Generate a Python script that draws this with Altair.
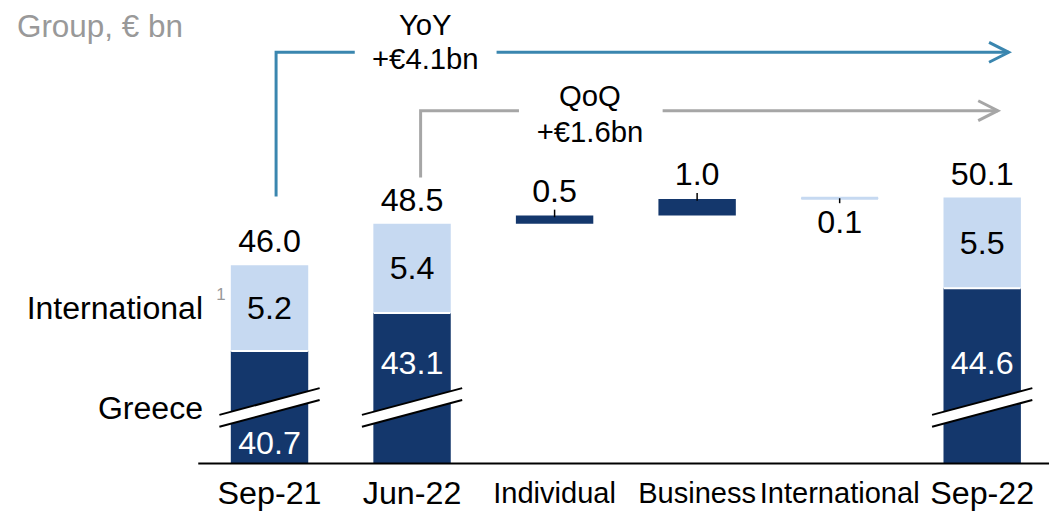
import altair as alt
import pandas as pd

# ---------------- data ----------------
categories = ["Sep-21", "Jun-22", "Individual", "Business", "International", "Sep-22"]
total_cats = ["Sep-21", "Jun-22", "Sep-22"]
greece = [40.7, 43.1, 44.6]
international = [5.2, 5.4, 5.5]
totals = [46.0, 48.5, 50.1]
delta_cats = ["Individual", "Business", "International"]
deltas = [0.5, 1.0, 0.1]
delta_segment = ["Greece", "Greece", "International"]
delta_label_side = ["above", "above", "below"]
segment_names = ["Greece", "International"]
yoy_text = ["YoY", "+€4.1bn"]
qoq_text = ["QoQ", "+€1.6bn"]
unit_text = "Group, € bn"
footnote = "1"

# ---------------- layout ----------------
BASE = 34.0            # broken value axis starts here
W, H = 1054, 504
PX_PER_UNIT = 16.65
PX_PER_STEP = 145
BASE_PX = 457
FIRST_PX = 261
Y_DOM = [BASE - (H - BASE_PX) / PX_PER_UNIT, BASE + BASE_PX / PX_PER_UNIT]
X_DOM = [-FIRST_PX / PX_PER_STEP, (W - FIRST_PX) / PX_PER_STEP]
HALF = 39 / PX_PER_STEP
BREAK_HALF = 51 / PX_PER_STEP
BREAK_L = (36.94, 36.22)   # upper / lower edge at left end
BREAK_R = (38.56, 37.84)   # upper / lower edge at right end
DARK_LABEL_Y = [34.6, 39.4, 39.4]
YOY_LEVEL, QOQ_LEVEL = 58.88, 55.35
MIN_BAR_PX = 3

DARK, LIGHT = "#14376C", "#C6D9F1"
BLUE, GRAY = "#3A86AF", "#A6A6A6"
FONT = "Liberation Sans"
FS_VAL, FS_CAT, FS_CAT_SMALL, FS_LEFT, FS_UNIT, FS_ANN = 32.5, 32.5, 29.3, 32.3, 31.7, 29.5

idx = {c: i for i, c in enumerate(categories)}
xs = alt.Scale(domain=X_DOM, nice=False, zero=False)
ys = alt.Scale(domain=Y_DOM, nice=False, zero=False)

# bars
rows = []
for c, g, it, t in zip(total_cats, greece, international, totals):
    rows.append(dict(idx=idx[c], y=BASE, y2=t - it, seg="Greece"))
    rows.append(dict(idx=idx[c], y=t - it, y2=t, seg="International"))
running = totals[1]
delta_rows = []
for c, d, s, side in zip(delta_cats, deltas, delta_segment, delta_label_side):
    rows.append(dict(idx=idx[c], y=running, y2=running + d, seg=s))
    delta_rows.append(dict(idx=idx[c], start=running, end=running + d, mid=running + d / 2,
                           side=side, seg=s, label=f"{d:.1f}", px=d * PX_PER_UNIT))
    running += d
bars_df = pd.DataFrame(rows)
delta_df = pd.DataFrame(delta_rows)
delta_df["xl"] = delta_df["idx"] - HALF
delta_df["xr"] = delta_df["idx"] + HALF

X = lambda f="idx": alt.X(f"{f}:Q", scale=xs, axis=None)
Y = lambda f="y": alt.Y(f"{f}:Q", scale=ys, axis=None)
seg_color = alt.Color("seg:N", scale=alt.Scale(domain=segment_names, range=[DARK, LIGHT]), legend=None)

bars = alt.Chart(bars_df).mark_bar(size=78).encode(x=X(), y=Y(), y2="y2:Q", color=seg_color)

# very thin delta bars get a minimum visible thickness
thin = alt.Chart(delta_df[delta_df.px < MIN_BAR_PX]).mark_rule(strokeWidth=MIN_BAR_PX).encode(
    x=X("xl"), x2="xr:Q", y=Y("mid"), color=seg_color)

tot_df = pd.DataFrame(dict(
    idx=[idx[c] for c in total_cats], total=totals, split=[t - i for t, i in zip(totals, international)],
    mid=[t - i / 2 for t, i in zip(totals, international)],
    intl=[f"{v:.1f}" for v in international], gr=[f"{v:.1f}" for v in greece],
    tl=[f"{v:.1f}" for v in totals], dark_y=DARK_LABEL_Y,
))
tot_df["xl"] = tot_df["idx"] - HALF
tot_df["xr"] = tot_df["idx"] + HALF

separators = alt.Chart(tot_df).mark_rule(color="white", strokeWidth=2).encode(
    x=X("xl"), x2="xr:Q", y=Y("split"))

# axis break marks
brk_rows = []
for c in total_cats:
    brk_rows.append(dict(bar=c, x=idx[c] - BREAK_HALF, up=BREAK_L[0], lo=BREAK_L[1]))
    brk_rows.append(dict(bar=c, x=idx[c] + BREAK_HALF, up=BREAK_R[0], lo=BREAK_R[1]))
brk_df = pd.DataFrame(brk_rows)
brk_fill = alt.Chart(brk_df).mark_area(color="white", opacity=1).encode(
    x=X("x"), y=Y("up"), y2="lo:Q", detail="bar:N")
brk_line_df = pd.DataFrame([
    dict(x=idx[c] - BREAK_HALF, x2=idx[c] + BREAK_HALF, y=BREAK_L[k], y2=BREAK_R[k])
    for c in total_cats for k in (0, 1)
])
brk_lines = alt.Chart(brk_line_df).mark_rule(color="black", strokeWidth=2).encode(
    x=X("x"), x2="x2:Q", y=Y("y"), y2="y2:Q")

axis_line = alt.Chart(pd.DataFrame(dict(x=[-0.5], x2=[X_DOM[1]], y=[BASE]))).mark_rule(
    color="black", strokeWidth=2).encode(x=X("x"), x2="x2:Q", y=Y("y"))

# connector ticks on delta bars
tick_rows = []
for r in delta_rows:
    if r["side"] == "above":
        tick_rows.append(dict(idx=r["idx"], a=r["end"] + 0.36, b=r["end"] - 0.1))
    else:
        tick_rows.append(dict(idx=r["idx"], a=r["start"] + 0.05, b=r["start"] - 0.25))
ticks = alt.Chart(pd.DataFrame(tick_rows)).mark_rule(color="black", strokeWidth=1.5).encode(
    x=X(), y=Y("a"), y2="b:Q")

def txt(df, **kw):
    base = dict(font=FONT, fontSize=FS_VAL, color="black", baseline="alphabetic", align="center")
    base.update(kw)
    return alt.Chart(df).mark_text(**base)

tot_labels = txt(tot_df, dy=-13).encode(x=X(), y=Y("total"), text="tl:N")
intl_labels = txt(tot_df, dy=11).encode(x=X(), y=Y("mid"), text="intl:N")
gr_labels = txt(tot_df, color="white").encode(x=X(), y=Y("dark_y"), text="gr:N")
d_above = txt(delta_df[delta_df.side == "above"], dy=-14).encode(x=X(), y=Y("end"), text="label:N")
d_below = txt(delta_df[delta_df.side == "below"], dy=34).encode(x=X(), y=Y("start"), text="label:N")

cat_df = pd.DataFrame(dict(idx=list(range(len(categories))), cat=categories, y=BASE,
                           kind=["total" if c in total_cats else "delta" for c in categories]))
cat_big = txt(cat_df[cat_df.kind == "total"], dy=41, fontSize=FS_CAT).encode(x=X(), y=Y("y"), text="cat:N")
cat_small = txt(cat_df[cat_df.kind == "delta"], dy=40, fontSize=FS_CAT_SMALL).encode(
    x=X(), y=Y("y"), text="cat:N")

left_df = pd.DataFrame(dict(idx=[0, 0], y=[tot_df["mid"][0], BASE], text=segment_names[::-1]))
left_intl = txt(left_df.iloc[[0]], align="right", dx=-67, dy=11, fontSize=FS_LEFT).encode(
    x=X(), y=Y("y"), text="text:N")
left_gr = txt(left_df.iloc[[1]], align="right", dx=-67, dy=-45, fontSize=FS_LEFT).encode(
    x=X(), y=Y("y"), text="text:N")
fn = txt(pd.DataFrame(dict(idx=[0], y=[tot_df["mid"][0]], t=[footnote])), fontSize=17, color="#999999",
         dx=-49, dy=-8).encode(x=X(), y=Y("y"), text="t:N")

unit = txt(pd.DataFrame(dict(x=[X_DOM[0]], y=[Y_DOM[1]], t=[unit_text])), align="left", fontSize=FS_UNIT,
           color="#999999", dx=4, dy=27.5).encode(x=X("x"), y=Y("y"), text="t:N")

# YoY / QoQ annotations
ann_x = {"YoY": 1.093, "QoQ": 2.248}
yoy_t = txt(pd.DataFrame(dict(x=[ann_x["YoY"]], y=[YOY_LEVEL], t=[yoy_text[0]])),
            fontSize=FS_ANN, dy=-17.4).encode(x=X("x"), y=Y("y"), text="t:N")
yoy_v = txt(pd.DataFrame(dict(x=[ann_x["YoY"]], y=[YOY_LEVEL], t=[yoy_text[1]])),
            fontSize=FS_ANN, dy=17).encode(x=X("x"), y=Y("y"), text="t:N")
qoq_t = txt(pd.DataFrame(dict(x=[ann_x["QoQ"]], y=[QOQ_LEVEL], t=[qoq_text[0]])),
            fontSize=FS_ANN, dy=-4.5).encode(x=X("x"), y=Y("y"), text="t:N")
qoq_v = txt(pd.DataFrame(dict(x=[ann_x["QoQ"]], y=[QOQ_LEVEL], t=[qoq_text[1]])),
            fontSize=FS_ANN, dy=32).encode(x=X("x"), y=Y("y"), text="t:N")

AX, AY = 20 / PX_PER_STEP, 10 / PX_PER_UNIT
paths = [
    ("yoy_a", "YoY", [(0.046, 50.16), (0.046, YOY_LEVEL), (0.598, YOY_LEVEL)]),
    ("yoy_b", "YoY", [(1.593, YOY_LEVEL), (5.186, YOY_LEVEL)]),
    ("yoy_h", "YoY", [(5.186 - AX, YOY_LEVEL + AY), (5.186, YOY_LEVEL), (5.186 - AX, YOY_LEVEL - AY)]),
    ("qoq_a", "QoQ", [(1.06, 51.3), (1.06, QOQ_LEVEL), (1.75, QOQ_LEVEL)]),
    ("qoq_b", "QoQ", [(2.758, QOQ_LEVEL), (5.11, QOQ_LEVEL)]),
    ("qoq_h", "QoQ", [(5.11 - AX, QOQ_LEVEL + AY), (5.11, QOQ_LEVEL), (5.11 - AX, QOQ_LEVEL - AY)]),
]
path_rows = [dict(path=p, kind=k, seq=i, x=x, y=y) for p, k, pts in paths for i, (x, y) in enumerate(pts)]
arrows = alt.Chart(pd.DataFrame(path_rows)).mark_line(strokeWidth=3, strokeJoin="miter", strokeCap="butt").encode(
    x=X("x"), y=Y("y"), detail="path:N", order="seq:Q",
    color=alt.Color("kind:N", scale=alt.Scale(domain=["YoY", "QoQ"], range=[BLUE, GRAY]), legend=None),
)

chart = alt.layer(
    bars, thin, separators, brk_fill, brk_lines, axis_line, ticks,
    tot_labels, intl_labels, gr_labels, d_above, d_below, cat_big, cat_small,
    left_intl, left_gr, fn, unit, yoy_t, yoy_v, qoq_t, qoq_v, arrows,
).resolve_scale(color="independent").properties(
    width=W, height=H, autosize=alt.AutoSizeParams(type="none"), padding=0,
).configure_view(stroke=None)

chart.save("out.html", embed_options={"renderer": "svg", "actions": False})
